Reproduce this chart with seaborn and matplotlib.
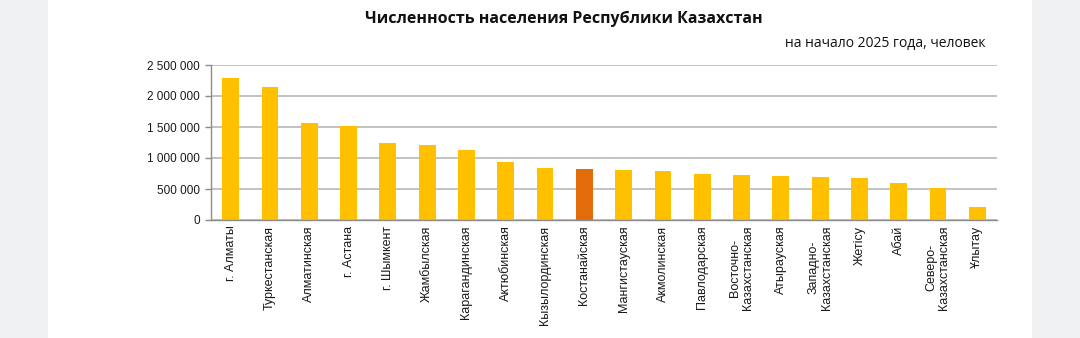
import matplotlib
matplotlib.use("Agg")
import matplotlib.pyplot as plt
import matplotlib.ticker as mticker
from matplotlib.patches import Rectangle
import seaborn as sns
import pandas as pd

regions = [
    "г. Алматы", "Туркестанская", "Алматинская", "г. Астана", "г. Шымкент",
    "Жамбылская", "Карагандинская", "Актюбинская", "Кызылординская", "Костанайская",
    "Мангистауская", "Акмолинская", "Павлодарская", "Восточно-\nКазахстанская", "Атырауская",
    "Западно-\nКазахстанская", "Жетісу", "Абай", "Северо-\nКазахстанская", "Ұлытау",
]
population = [
    2290000, 2150000, 1557000, 1523000, 1248000,
    1216000, 1124000, 941000, 838000, 826000,
    801000, 784000, 746000, 719000, 702000,
    687000, 681000, 595000, 520000, 212000,
]
highlight = "Костанайская"
y_ticks = [0, 500000, 1000000, 1500000, 2000000, 2500000]

title = "Численность населения Республики Казахстан"
subtitle = "на начало 2025 года, человек"

YELLOW = "#FFC000"
ORANGE = "#E36C0A"
GRID = "#bdbdbd"

df = pd.DataFrame({"region": regions, "population": population})
palette = {r: (ORANGE if r == highlight else YELLOW) for r in regions}

sns.set_theme(style="white")
plt.rcParams["font.family"] = ["Liberation Sans", "DejaVu Sans"]

fig = plt.figure(figsize=(10.8, 3.38), dpi=100, facecolor="white")
# side margins of the page
fig.patches.append(Rectangle((0, 0), 48 / 1080, 1, transform=fig.transFigure,
                             facecolor="#eff0f2", edgecolor="none", zorder=-1))
fig.patches.append(Rectangle((1032 / 1080, 0), 48 / 1080, 1, transform=fig.transFigure,
                             facecolor="#eff0f2", edgecolor="none", zorder=-1))

ax = fig.add_axes([211 / 1080, 1 - 220 / 338, (997 - 211) / 1080, (220 - 65) / 338])
sns.barplot(data=df, x="region", y="population", hue="region", palette=palette,
            legend=False, width=0.43, ax=ax, saturation=1, linewidth=0)

ax.set_ylim(0, 2500000)
ax.set_xlim(-0.5, len(regions) - 0.5)
ax.set_yticks(y_ticks)
ax.yaxis.set_major_formatter(mticker.FuncFormatter(
    lambda v, _: f"{int(v):,}".replace(",", " ")))
ax.grid(axis="y", color=GRID, linewidth=1.3)
ax.set_axisbelow(True)
ax.set_xlabel("")
ax.set_ylabel("")

for s in ["top", "right"]:
    ax.spines[s].set_visible(False)
for s in ["left", "bottom"]:
    ax.spines[s].set_color("#8c8c8c")
    ax.spines[s].set_linewidth(1.0)

# category boundaries as ticks below the axis
ax.set_xticks([i - 0.5 for i in range(len(regions) + 1)], minor=True)
ax.tick_params(axis="x", which="minor", length=4, color="#8c8c8c", width=1, direction="out")
ax.tick_params(axis="x", which="major", length=0, pad=4, labelsize=9, labelcolor="#1a1a1a")
ax.tick_params(axis="y", length=4, color="#8c8c8c", width=1, direction="out",
               labelsize=8.5, labelcolor="#1a1a1a", pad=4)
ax.set_xticks(range(len(regions)))
ax.set_xticklabels(regions, rotation=90, va="top", ha="center", linespacing=1.1)
ax.tick_params(axis="y", which="major", left=True)

fig.text(564 / 1080, 1 - 19 / 338, title, ha="center", va="center",
         fontsize=11.5, fontweight="bold", family=["Open Sans", "DejaVu Sans"],
         color="#111111")
fig.text(985 / 1080, 1 - 44 / 338, subtitle, ha="right", va="center",
         fontsize=10, family=["Open Sans", "DejaVu Sans"], color="#111111")

fig.savefig("out.png", dpi=100, facecolor=fig.get_facecolor())
